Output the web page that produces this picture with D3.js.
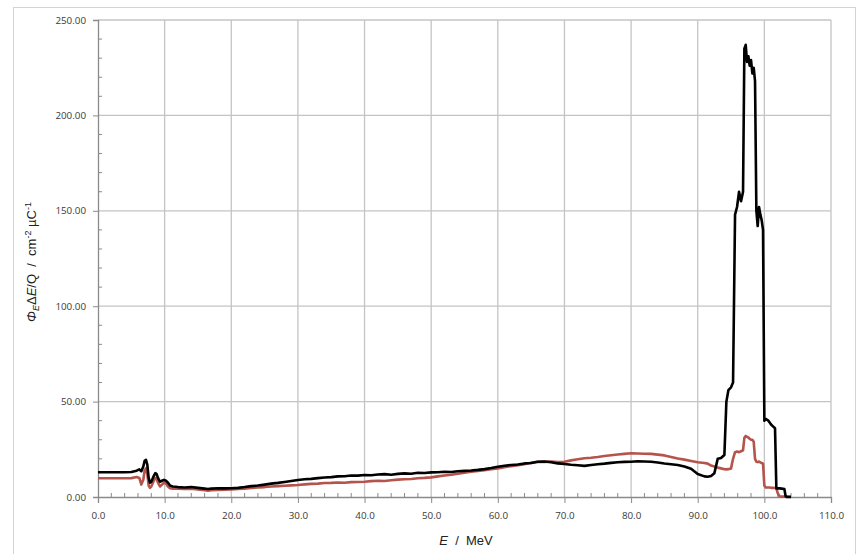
<!DOCTYPE html>
<html>
<head>
<meta charset="utf-8">
<script src="https://cdn.jsdelivr.net/npm/d3@7"></script>
<style>
  body { margin: 0; background: #fff; }
  svg { display: block; }
  .tick text { font-family: "Open Sans", sans-serif; font-size: 9.8px; fill: #3a3a3a; }
</style>
</head>
<body>
<svg width="862" height="554"></svg>
<script>
// energy grid (MeV) shared by both curves
var energy = [0, 1, 2, 3, 4, 5, 5.8, 6.2, 6.5, 6.8, 7.0, 7.2, 7.4, 7.6, 7.8, 8.0, 8.3, 8.6, 8.8, 9.0,
  9.3, 9.6, 9.9, 10.2, 10.5, 10.8, 11.2, 12, 13, 14, 15, 16, 16.5, 17, 18, 19, 20,
  21, 22, 23, 24, 25, 26, 27, 28, 29, 30, 31, 32, 33, 34, 35, 36, 37, 38, 39, 40,
  41, 42, 43, 44, 45, 46, 47, 48, 49, 50, 51, 52, 53, 54, 55, 56, 57, 58, 59, 60,
  61, 62, 63, 64, 65, 66, 67, 68, 69, 70, 71, 72, 73, 74, 75, 76, 77, 78, 79, 80,
  81, 82, 83, 84, 85, 86, 87, 88, 89, 90, 91, 91.5, 92, 92.5, 93, 93.5, 94, 94.3, 94.6,
  95, 95.3, 95.6, 95.9, 96.2, 96.5, 96.8, 97.0, 97.2, 97.4, 97.6, 97.8, 98.0, 98.2, 98.4,
  98.6, 98.8, 99.0, 99.2, 99.4, 99.6, 99.8, 100.0, 100.2, 100.4, 100.6, 100.8, 101.0,
  101.3, 101.6, 101.8, 102.0, 102.3, 102.6, 103.0, 103.2, 103.4, 103.7, 104.0];

// black curve
var fluenceA = [13.0, 13.0, 13.0, 13.0, 13.0, 13.1, 13.8, 14.5, 13.5, 16, 19, 19.5, 17, 10, 7.5, 8, 10.5, 12.5, 12, 10,
  8, 8.5, 9, 8.5, 7.5, 6, 5.5, 5.2, 5, 5.2, 4.8, 4.4, 4.2, 4.4, 4.6, 4.5, 4.6,
  4.8, 5.2, 5.7, 6.0, 6.5, 7.0, 7.4, 7.9, 8.4, 8.9, 9.3, 9.5, 9.9, 10.2, 10.4, 10.8, 10.9, 11.3, 11.2, 11.5,
  11.4, 11.8, 12.0, 11.7, 12.1, 12.4, 12.2, 12.7, 12.6, 12.9, 13.0, 13.2, 13.1, 13.5, 13.7, 13.9, 14.2, 14.6, 15.2, 15.9,
  16.4, 16.8, 17.0, 17.6, 17.8, 18.5, 18.6, 18.2, 17.6, 17.3, 16.9, 16.6, 16.3, 16.8, 17.2, 17.5, 17.9, 18.2, 18.4, 18.5,
  18.7, 18.6, 18.5, 18.1, 17.6, 17.2, 16.8, 16.0, 14.8, 12.0, 10.8, 10.6, 11.0, 12.5, 20, 20.4, 22, 50, 56,
  57.5, 60, 148, 152, 160, 155, 160, 235, 237, 228, 231, 226, 229, 222, 225,
  218, 150, 142, 152, 148, 145, 140, 40, 41, 40.5, 40, 39, 38,
  37, 36, 4.5, 4.5, 4.5, 4.4, 4.2, 0.3, 0, 0, 0];

// red curve
var fluenceB = [9.8, 9.8, 9.8, 9.8, 9.8, 9.9, 10.5, 10, 6.5, 9, 14, 15, 12, 6, 4.8, 5.5, 8, 10, 9.5, 7.5,
  5.5, 6.5, 7.5, 7, 5.5, 4.6, 4.4, 4.3, 4.2, 4.3, 4.0, 3.5, 3.3, 3.5, 3.7, 3.8, 4.0,
  4.2, 4.4, 4.7, 5.0, 5.2, 5.5, 5.7, 5.9, 6.1, 6.3, 6.6, 6.9, 7.0, 7.3, 7.4, 7.6, 7.5, 7.8, 7.9, 8.0,
  8.3, 8.5, 8.4, 8.8, 9.1, 9.3, 9.4, 9.8, 10.0, 10.3, 10.8, 11.3, 11.7, 12.2, 12.7, 13.2, 13.6, 14.0, 14.5, 15.0,
  15.6, 16.2, 16.7, 17.2, 17.9, 18.5, 18.4, 18.6, 18.3, 18.5, 19.2, 19.8, 20.3, 20.6, 21.0, 21.5, 21.9, 22.3, 22.6, 22.9,
  22.8, 22.7, 22.6, 22.2, 21.8, 21.0, 20.2, 19.6, 18.9, 18.2, 17.8, 17.5, 16.5, 16.0, 15.4, 15.0, 14.6, 14.5, 14.6,
  15.0, 20, 23.5, 23.8, 23.5, 24, 24.5, 31, 32, 31.5, 31.2, 30.5, 30, 30, 29,
  20, 18.5, 18.3, 18.6, 18.2, 17.8, 17.5, 6, 5, 5, 5, 5, 4.8,
  4.8, 4.7, 4.5, 2, 0.3, 0.2, 0.2, 0.2, 0.2, 0.2, 0.2, 0.2];

var xTicks = [0, 10, 20, 30, 40, 50, 60, 70, 80, 90, 100, 110];
var yTicks = [0, 50, 100, 150, 200, 250];

var svg = d3.select("svg");
var margin = {left: 98, right: 31, top: 20, bottom: 57};
var width = 862 - margin.left - margin.right,
    height = 554 - margin.top - margin.bottom;

// outer chart frame
svg.append("rect")
    .attr("x", 13.5).attr("y", 7.5)
    .attr("width", 842).attr("height", 560)
    .attr("fill", "none").attr("stroke", "#d4d4d4");

var g = svg.append("g").attr("transform", "translate(" + margin.left + "," + margin.top + ")");

var x = d3.scaleLinear().domain([0, 110]).range([0, width]);
var y = d3.scaleLinear().domain([0, 250]).range([height, 0]);

// grid
g.append("g").selectAll("line").data(xTicks.slice(1)).enter().append("line")
    .attr("x1", x).attr("x2", x).attr("y1", 0).attr("y2", height)
    .attr("stroke", "#c4c4c4").attr("stroke-width", 1.3);
g.append("g").selectAll("line").data(yTicks.slice(1)).enter().append("line")
    .attr("x1", 0).attr("x2", width).attr("y1", y).attr("y2", y)
    .attr("stroke", "#c4c4c4").attr("stroke-width", 1.3);

// minor ticks, inside the plot
g.append("g").selectAll("line").data(d3.range(0, 250, 10).filter(function (v) { return v % 50; }))
  .enter().append("line")
    .attr("x1", 0).attr("x2", 4).attr("y1", y).attr("y2", y)
    .attr("stroke", "#8a8a8a");
g.append("g").selectAll("line").data(d3.range(0, 110, 2).filter(function (v) { return v % 10; }))
  .enter().append("line")
    .attr("x1", x).attr("x2", x).attr("y1", height).attr("y2", height - 4)
    .attr("stroke", "#8a8a8a");

var xAxis = g.append("g")
    .attr("transform", "translate(0," + height + ")")
    .call(d3.axisBottom(x).tickValues(xTicks).tickFormat(d3.format(".1f")).tickSize(6).tickPadding(9));
var yAxis = g.append("g")
    .call(d3.axisLeft(y).tickValues(yTicks).tickFormat(d3.format(".2f")).tickSize(5).tickPadding(7));
[xAxis, yAxis].forEach(function (a) {
    a.select(".domain").attr("stroke", "#8a8a8a").attr("stroke-width", 1.3);
    a.selectAll(".tick line").attr("stroke", "#8a8a8a");
});

var line = d3.line()
    .x(function (d, i) { return x(energy[i]); })
    .y(function (d) { return y(d); });

g.append("path").datum(fluenceB)
    .attr("d", line).attr("fill", "none")
    .attr("stroke", "#b5544c").attr("stroke-width", 2.6).attr("stroke-linejoin", "round");
g.append("path").datum(fluenceA)
    .attr("d", line).attr("fill", "none")
    .attr("stroke", "#000").attr("stroke-width", 2.6).attr("stroke-linejoin", "round");

// axis titles
var xt = svg.append("text")
    .attr("x", 466).attr("y", 545)
    .attr("text-anchor", "middle")
    .style("font-family", "Liberation Sans, Arial, sans-serif").style("font-size", "13px").attr("fill", "#222");
xt.append("tspan").style("font-style", "italic").text("E");
xt.append("tspan").text("\u00a0\u00a0/\u00a0\u00a0MeV");

var yt = svg.append("text")
    .attr("transform", "translate(36,262) rotate(-90)")
    .attr("text-anchor", "middle")
    .style("font-family", "Liberation Sans, Arial, sans-serif").style("font-size", "13px").attr("fill", "#222");
yt.append("tspan").style("font-style", "italic").text("Φ");
yt.append("tspan").style("font-style", "italic").style("font-size", "9px").attr("dy", 3).text("E");
yt.append("tspan").attr("dy", -3).text("Δ");
yt.append("tspan").style("font-style", "italic").text("E");
yt.append("tspan").text("/Q\u00a0\u00a0/\u00a0\u00a0cm");
yt.append("tspan").style("font-size", "9px").attr("dy", -5).text("-2");
yt.append("tspan").attr("dy", 5).text("\u00a0µC");
yt.append("tspan").style("font-size", "9px").attr("dy", -5).text("-1");
</script>
</body>
</html>
